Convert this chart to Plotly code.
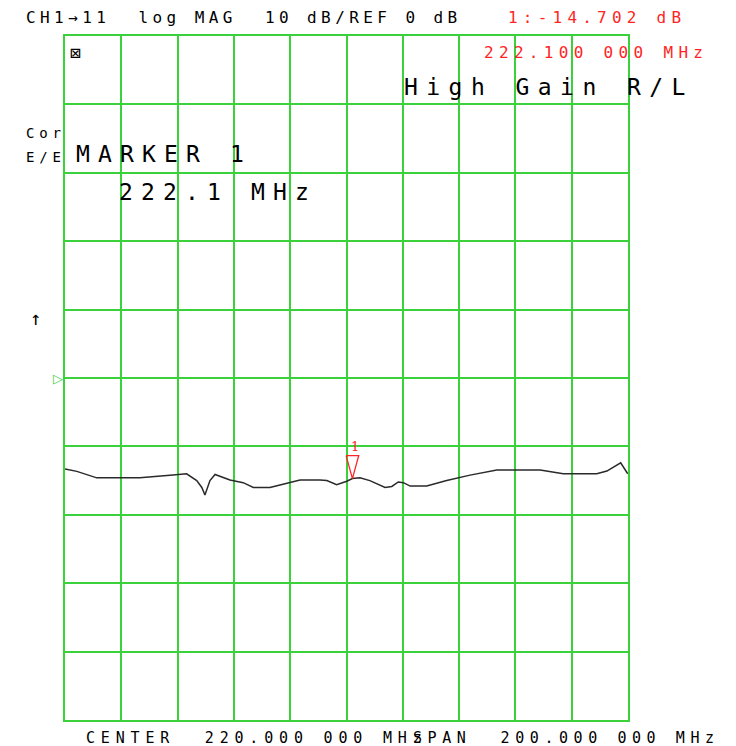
import plotly.graph_objects as go

# ---- data ----
freq_mhz = [120.0, 124.2, 131.3, 146.6, 157.3, 163.2, 166.8, 168.6, 169.7, 170.7,
            171.5, 173.3, 178.6, 183.3, 186.9, 192.8, 199.9, 203.5, 210.6, 213.0,
            216.5, 220.1, 222.1, 224.8, 228.3, 233.7, 236.1, 238.4, 240.2, 242.6,
            248.5, 255.6, 263.9, 273.4, 280.5, 288.8, 297.0, 308.9, 312.5, 317.4,
            319.9]
mag_db = [-13.3, -13.65, -14.6, -14.6, -14.2, -14.0, -15.0, -16.0, -17.1, -16.0,
          -15.0, -14.1, -14.9, -15.3, -16.0, -16.0, -15.3, -14.9, -14.9, -15.0,
          -15.6, -15.1, -14.702, -14.6, -15.0, -16.0, -15.85, -15.2, -15.3, -15.8,
          -15.8, -15.0, -14.2, -13.45, -13.45, -13.45, -14.0, -14.0, -13.6, -12.4,
          -14.0]

center_mhz = 220.0
span_mhz = 200.0
ref_db = 0.0
scale_db = 10.0
n_div = 10
marker_mhz = 222.1
marker_db = -14.702

header_text = "CH1\u219211  log MAG  10 dB/REF 0 dB"
marker_value_text = "1:-14.702 dB"
marker_freq_text = "222.100 000 MHz"
title_text = "High Gain R/L"
marker_name_text = "MARKER 1"
marker_mhz_text = "222.1 MHz"
center_text = "CENTER  220.000 000 MHz"
span_text = "SPAN  200.000 000 MHz"

# ---- geometry ----
W, H = 736, 746
L, R, T, B = 65, 628, 36, 720
pw, ph = R - L, B - T
x0 = center_mhz - span_mhz / 2
x1 = center_mhz + span_mhz / 2
y0 = ref_db - scale_db * n_div / 2
y1 = ref_db + scale_db * n_div / 2
mhz_per_px = span_mhz / pw
db_per_px = (y1 - y0) / ph

GREEN = "#3bd13b"
RED = "#ff2424"

fig = go.Figure()

fig.add_trace(go.Scatter(x=freq_mhz, y=mag_db, mode="lines",
                         line=dict(color="#2a2a2a", width=1.5),
                         hoverinfo="skip", showlegend=False))

# marker triangle (tip on the trace)
hw = 6.3 * mhz_per_px
hh = 23 * db_per_px
fig.add_trace(go.Scatter(x=[marker_mhz - hw, marker_mhz + hw, marker_mhz, marker_mhz - hw],
                         y=[marker_db + hh, marker_db + hh, marker_db, marker_db + hh],
                         mode="lines", line=dict(color=RED, width=1.3),
                         hoverinfo="skip", showlegend=False))
fig.add_annotation(x=marker_mhz + 3 * mhz_per_px, y=marker_db + 32.5 * db_per_px,
                   text="1", showarrow=False, xanchor="center", yanchor="middle",
                   font=dict(family="DejaVu Serif", size=13, color=RED))

# reference-level pointer (left of the grid)
fig.add_annotation(xref="paper", x=-1 / pw, y=ref_db, xanchor="right", yanchor="middle",
                   text="\u25b7", showarrow=False, borderpad=0,
                   font=dict(family="DejaVu Sans", size=13, color=GREEN))


def label(text, px, py, size, pitch, color="black", family="DejaVu Sans Mono"):
    ls = pitch - 0.602 * size
    fig.add_annotation(
        text=f'<span style="letter-spacing:{ls:.2f}px">{text}</span>',
        xref="paper", yref="paper", x=(px - L) / pw, y=(B - py) / ph,
        xanchor="left", yanchor="middle", align="left", showarrow=False,
        borderpad=0, font=dict(family=family, size=size, color=color))


label(header_text, 25, 18, 16, 14.05)
label(marker_value_text, 507, 18, 16, 14.85, RED)
label(marker_freq_text, 483, 52.5, 16, 14.95, RED)
label(title_text, 403, 86.5, 23, 22.3)
label("Cor", 25, 133, 14, 13.3)
label("E/E", 25, 156.5, 14, 13.3)
label(marker_name_text, 75, 153.5, 23, 22.0)
label(marker_mhz_text, 118, 191.5, 23, 22.0)
label("\u2191", 29, 318, 19, 12)
label("\u22a0", 69, 52, 18, 12)
label(center_text, 85, 737.5, 15, 14.85)
label(span_text, 412, 737.5, 15, 14.6)

axis_common = dict(showgrid=True, gridcolor=GREEN, gridwidth=2, zeroline=False,
                   showline=True, mirror=True, linecolor=GREEN, linewidth=2,
                   showticklabels=False, ticks="", fixedrange=True)

fig.update_layout(
    width=W, height=H,
    margin=dict(l=L, r=W - R, t=T, b=H - B, pad=0),
    paper_bgcolor="white", plot_bgcolor="white",
    showlegend=False,
    xaxis=dict(range=[x0, x1], tick0=x0, dtick=span_mhz / n_div, **axis_common),
    yaxis=dict(range=[y0, y1], tick0=y0, dtick=scale_db, **axis_common),
)

fig.write_html("out.html", config={"displayModeBar": False},
               post_script="document.body.style.margin='0';document.body.style.overflow='hidden';")
